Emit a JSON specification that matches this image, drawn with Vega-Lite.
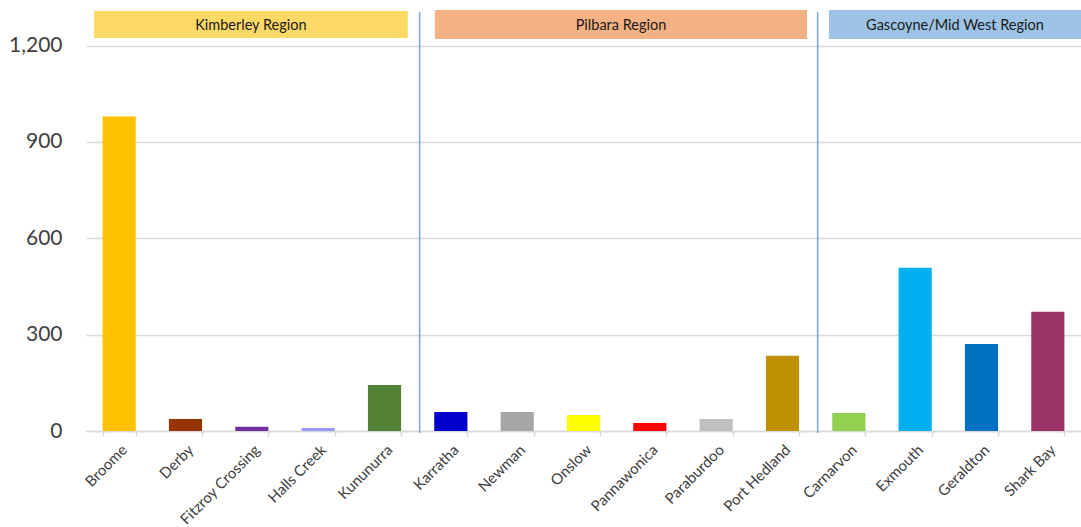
{
  "$schema": "https://vega.github.io/schema/vega-lite/v6.json",
  "width": 995,
  "height": 421,
  "autosize": {"type": "none"},
  "padding": {"left": 86, "top": 10, "right": 0, "bottom": 96},
  "background": "white",
  "config": {"view": {"stroke": null}, "font": "Lato"},
  "datasets": {
    "towns": [
      {"town": "Broome", "value": 979, "color": "#FFC000"},
      {"town": "Derby", "value": 37, "color": "#993300"},
      {"town": "Fitzroy Crossing", "value": 13, "color": "#7030A0"},
      {"town": "Halls Creek", "value": 9, "color": "#9999FF"},
      {"town": "Kununurra", "value": 143, "color": "#548235"},
      {"town": "Karratha", "value": 59, "color": "#0000CC"},
      {"town": "Newman", "value": 59, "color": "#A6A6A6"},
      {"town": "Onslow", "value": 50, "color": "#FFFF00"},
      {"town": "Pannawonica", "value": 25, "color": "#FF0000"},
      {"town": "Paraburdoo", "value": 37, "color": "#BFBFBF"},
      {"town": "Port Hedland", "value": 234, "color": "#BF9000"},
      {"town": "Carnarvon", "value": 56, "color": "#92D050"},
      {"town": "Exmouth", "value": 508, "color": "#00B0F0"},
      {"town": "Geraldton", "value": 271, "color": "#0070C0"},
      {"town": "Shark Bay", "value": 371, "color": "#993366"}
    ],
    "regions": [
      {"region": "Kimberley Region", "x1": 0.12, "x2": 4.85, "xm": 2.485, "y1": 1224, "y2": 1308, "ym": 1262, "color": "#FFD966"},
      {"region": "Pilbara Region", "x1": 5.26, "x2": 10.87, "xm": 8.065, "y1": 1221, "y2": 1311, "ym": 1262, "color": "#F4B183"},
      {"region": "Gascoyne/Mid West  Region", "x1": 11.2, "x2": 15, "xm": 13.1, "y1": 1221, "y2": 1311, "ym": 1262, "color": "#9DC3E6"}
    ],
    "seps": [
      {"x": 5.03, "ylo": -6, "yhi": 1305},
      {"x": 11.03, "ylo": -6, "yhi": 1305}
    ]
  },
  "resolve": {"scale": {"x": "independent"}},
  "layer": [
    {
      "data": {"name": "towns"},
      "mark": {"type": "bar"},
      "encoding": {
        "x": {
          "field": "town", "type": "nominal", "sort": null,
          "scale": {"paddingInner": 0.5, "paddingOuter": 0.25},
          "axis": {
            "title": null, "labelAngle": -45, "labelAlign": "right", "labelBaseline": "top",
            "labelFontSize": 15, "labelColor": "#404040", "labelPadding": 6,
            "domainColor": "#D9D9D9", "domainWidth": 1.5, "tickColor": "#D9D9D9", "tickWidth": 1.5,
            "tickSize": 5, "tickBand": "extent", "grid": false
          }
        },
        "y": {
          "field": "value", "type": "quantitative",
          "scale": {"domain": [0, 1311], "nice": false},
          "axis": {
            "title": null, "values": [0, 300, 600, 900, 1200], "format": ",d",
            "labelFontSize": 21, "labelColor": "#404040", "labelPadding": 24,
            "ticks": false, "domain": false, "gridColor": "#D9D9D9", "gridWidth": 1.5
          }
        },
        "color": {"field": "color", "type": "nominal", "scale": null, "legend": null}
      }
    },
    {
      "layer": [
        {
          "data": {"name": "regions"},
          "mark": {"type": "rect"},
          "encoding": {
            "x": {"field": "x1", "type": "quantitative", "scale": {"domain": [0, 15], "nice": false, "zero": false}, "axis": null},
            "x2": {"field": "x2"},
            "y": {"field": "y1", "type": "quantitative"},
            "y2": {"field": "y2"},
            "color": {"field": "color", "type": "nominal", "scale": null, "legend": null}
          }
        },
        {
          "data": {"name": "regions"},
          "mark": {"type": "text", "fontSize": 14.5, "color": "#1a1a1a", "font": "Lato"},
          "encoding": {
            "x": {"field": "xm", "type": "quantitative"},
            "y": {"field": "ym", "type": "quantitative"},
            "text": {"field": "region"}
          }
        },
        {
          "data": {"name": "seps"},
          "mark": {"type": "rule", "color": "#6FA8DC", "strokeWidth": 1.5, "clip": false},
          "encoding": {
            "x": {"field": "x", "type": "quantitative"},
            "y": {"field": "ylo", "type": "quantitative"},
            "y2": {"field": "yhi"}
          }
        }
      ]
    }
  ]
}
